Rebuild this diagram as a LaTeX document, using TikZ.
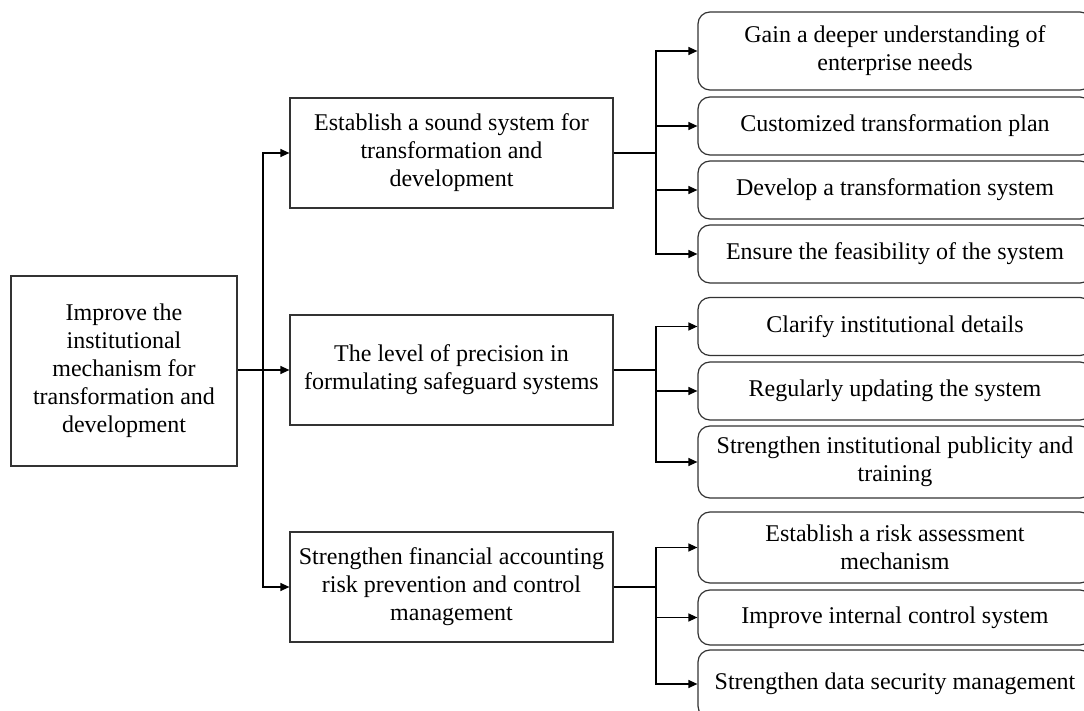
\documentclass[tikz,border=0pt]{standalone}
\usepackage{fontspec}
\setmainfont{Liberation Serif}
\usepackage{tikz}
\usetikzlibrary{
  arrows.meta,
  positioning
}

\begin{document}
\begin{tikzpicture}[
      x=0.5pt, y=-0.5pt,
      goal/.style={
         rectangle,
         draw=black!80,
         line width=0.6pt,
         minimum width=113pt,
         minimum height=95pt,
         align=center,
         font=\fontsize{12}{14}\selectfont
      },
      measure/.style={
         rectangle,
         draw=black!80,
         line width=0.6pt,
         minimum width=161.5pt,
         minimum height=55pt,
         align=center,
         font=\fontsize{12}{14}\selectfont
      },
      detail/.style={
         rectangle,
         rounded corners=6pt,
         draw=black!80,
         line width=0.6pt,
         minimum width=197pt,
         minimum height=#1,
         align=center,
         inner sep=1pt,
         font=\fontsize{12}{14}\selectfont
      },
      detail/.default=29pt,
      point/.style={coordinate},
      >={Triangle[length=4.5pt,width=4pt]},
      tip/.style={->,line width=0.6pt,draw=black},
      line/.style={line width=0.6pt,draw=black}
    ]
    \useasboundingbox (0,0) rectangle (1084,711);

    % left column
    \node (g) [goal] at (124,371) {Improve the\\institutional\\mechanism for\\transformation and\\development};

    % middle column
    \node (m1) [measure] at (451.5,153) {Establish a sound system for\\transformation and\\development};
    \node (m2) [measure] at (451.5,370) {The level of precision in\\formulating safeguard systems};
    \node (m3) [measure] at (451.5,587) {Strengthen financial accounting\\risk prevention and control\\management};

    % right column
    \node (d1)  [detail=39pt] at (895,51)    {Gain a deeper understanding of\\enterprise needs};
    \node (d2)  [detail]      at (895,126)   {Customized transformation plan};
    \node (d3)  [detail]      at (895,190)   {Develop a transformation system};
    \node (d4)  [detail]      at (895,254)   {Ensure the feasibility of the system};
    \node (d5)  [detail]      at (895,326.5) {Clarify institutional details};
    \node (d6)  [detail]      at (895,391)   {Regularly updating the system};
    \node (d7)  [detail=36pt] at (895,462)   {Strengthen institutional publicity and\\training};
    \node (d8)  [detail=35.5pt] at (895,547.5) {Establish a risk assessment\\mechanism};
    \node (d9)  [detail=27.5pt] at (895,617.5) {Improve internal control system};
    \node (d10) [detail=34pt] at (895,684)   {Strengthen data security management};

    % junctions
    \node (j0) [point] at (263,370) {};
    \node (j1) [point] at (656,153) {};
    \node (j2) [point] at (656,370) {};
    \node (j3) [point] at (656,587) {};

    % connectors
    \draw[tip] (g.east |- m2) -- (m2);
    \draw[tip] (j0) |- (m1);
    \draw[tip] (j0) |- (m3);

    \draw[line] (m1) -- (j1);
    \draw[line] (m2) -- (j2);
    \draw[line] (m3) -- (j3);

    \foreach \d in {d1,d2,d3,d4}
       \draw[tip] (j1) |- (\d);
    \foreach \d in {d5,d6,d7}
       \draw[tip] (j2) |- (\d);
    \foreach \d in {d8,d9,d10}
       \draw[tip] (j3) |- (\d);
\end{tikzpicture}
\end{document}
